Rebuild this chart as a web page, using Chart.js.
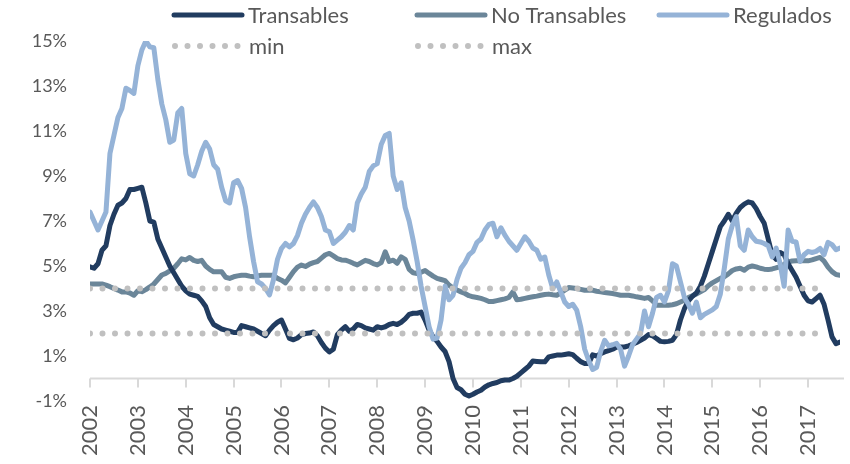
<!DOCTYPE html>
<html>
<head>
<meta charset="utf-8">
<script src="https://cdn.jsdelivr.net/npm/chart.js@4/dist/chart.umd.min.js"></script>
<style>
  html, body { margin: 0; padding: 0; background: #fff; }
  #wrap { width: 850px; height: 464px; }
</style>
</head>
<body>
<div id="wrap"><canvas id="myChart" width="850" height="464"></canvas></div>
<script>
// monthly series, 2002-01 .. 2017-09 (% a/a)
const years = ['2002', '2003', '2004', '2005', '2006', '2007', '2008', '2009',
  '2010', '2011', '2012', '2013', '2014', '2015', '2016', '2017'];

const transables = [
  4.96, 4.9, 5.1, 5.7, 5.9, 6.8, 7.3, 7.7, 7.8, 8.0, 8.4, 8.4,
  8.45, 8.5, 7.8, 7.0, 6.95, 6.2, 5.8, 5.4, 5.0, 4.7, 4.4, 4.1,
  3.9, 3.75, 3.7, 3.65, 3.45, 3.2, 2.7, 2.4, 2.3, 2.2, 2.15, 2.1,
  2.05, 2.05, 2.35, 2.3, 2.25, 2.2, 2.1, 2.0, 1.9, 2.15, 2.35, 2.5,
  2.6, 2.2, 1.78, 1.72, 1.8, 1.95, 2.0, 2.02, 2.07, 1.9, 1.6, 1.35,
  1.18, 1.3, 1.95, 2.15, 2.3, 2.1, 2.2, 2.4, 2.35, 2.25, 2.2, 2.15,
  2.3, 2.25, 2.3, 2.4, 2.45, 2.4, 2.5, 2.65, 2.85, 2.9, 2.9, 2.95,
  2.6, 2.15, 1.85, 1.65, 1.4, 1.2, 0.75, 0.0, -0.4, -0.5, -0.7, -0.78,
  -0.7, -0.6, -0.52, -0.38, -0.28, -0.22, -0.18, -0.1, -0.07, -0.07, 0.0, 0.1,
  0.25, 0.4, 0.55, 0.78, 0.76, 0.74, 0.74, 0.96, 1.0, 1.04, 1.04, 1.07,
  1.1, 1.06, 0.9, 0.75, 0.67, 0.67, 1.05, 1.0, 1.1, 1.18, 1.24, 1.3,
  1.4, 1.4, 1.4, 1.45, 1.52, 1.6, 1.7, 1.8, 1.95, 1.9, 1.78, 1.65,
  1.63, 1.65, 1.7, 1.95, 2.6, 3.1, 3.45, 3.65, 3.8, 4.1, 4.55, 5.1,
  5.65, 6.2, 6.75, 7.0, 7.3, 7.0, 7.35, 7.6, 7.75, 7.85, 7.8, 7.55,
  7.2, 6.9, 6.2, 5.5, 5.3, 5.6, 5.5, 5.1, 4.8, 4.5, 4.1, 3.7,
  3.45, 3.4, 3.55, 3.7, 3.3, 2.6, 1.85, 1.55, 1.62
];

const noTransables = [
  4.2, 4.2, 4.2, 4.2, 4.15, 4.08, 4.0, 3.93, 3.85, 3.85, 3.8, 3.7,
  3.9, 3.86, 3.95, 4.07, 4.2, 4.4, 4.6, 4.67, 4.78, 4.9, 5.1, 5.32,
  5.27, 5.38, 5.25, 5.2, 5.25, 5.0, 4.85, 4.74, 4.74, 4.74, 4.5, 4.45,
  4.52, 4.56, 4.59, 4.59, 4.55, 4.52, 4.56, 4.59, 4.59, 4.59, 4.59, 4.45,
  4.37, 4.25, 4.5, 4.75, 4.95, 5.04, 4.98, 5.08, 5.15, 5.2, 5.35, 5.5,
  5.56, 5.45, 5.33, 5.27, 5.26, 5.2, 5.12, 5.05, 5.15, 5.25, 5.2, 5.11,
  5.05, 5.15, 5.63, 5.2, 5.26, 5.12, 5.41, 5.3, 4.85, 4.7, 4.67, 4.72,
  4.8, 4.67, 4.55, 4.45, 4.4, 4.35, 4.15, 4.02, 3.93, 3.85, 3.78, 3.68,
  3.63, 3.6, 3.56, 3.5, 3.42, 3.42, 3.46, 3.5, 3.54, 3.6, 3.85, 3.5,
  3.52, 3.56, 3.6, 3.63, 3.66, 3.7, 3.73, 3.75, 3.72, 3.7, 3.8, 3.92,
  4.04, 4.02, 4.0, 3.96, 3.92, 3.92, 3.92, 3.88, 3.85, 3.82, 3.8, 3.78,
  3.74, 3.7, 3.7, 3.7, 3.67, 3.63, 3.6, 3.56, 3.6, 3.45, 3.26, 3.26,
  3.26, 3.26, 3.28, 3.32, 3.4, 3.48, 3.6, 3.68, 3.76, 3.85, 3.95, 4.12,
  4.25, 4.35, 4.45, 4.52, 4.65, 4.8, 4.87, 4.9, 4.81, 4.95, 5.0, 4.96,
  4.9, 4.86, 4.84, 4.87, 4.92, 4.96, 5.08, 5.18, 5.22, 5.23, 5.23, 5.23,
  5.23, 5.27, 5.33, 5.38, 5.22, 4.95, 4.75, 4.62, 4.59
];

const regulados = [
  7.4, 7.0, 6.6, 7.0, 7.4, 10.0, 10.8, 11.6, 12.0, 12.9, 12.8, 12.67,
  13.9, 14.6, 15.0, 14.74, 14.7, 13.3, 12.2, 11.5, 10.5, 10.6, 11.8, 12.0,
  10.0, 9.1, 9.0, 9.5, 10.1, 10.5, 10.2, 9.5, 9.3, 8.5, 7.9, 7.8,
  8.7, 8.8, 8.45, 7.6, 6.3, 5.2, 4.3, 4.2, 4.0, 3.72, 4.4, 5.3,
  5.78, 6.0, 5.85, 6.0, 6.35, 6.9, 7.3, 7.6, 7.85, 7.6, 7.2, 6.6,
  6.52, 6.0, 6.15, 6.3, 6.5, 6.8, 6.6, 7.8, 8.2, 8.5, 9.2, 9.45,
  9.55, 10.4, 10.8, 10.89, 9.0, 8.4, 8.7, 7.6, 7.0, 6.15, 5.2, 4.1,
  3.2, 2.3, 1.75, 1.8, 2.6, 4.1, 3.5, 3.7, 4.4, 4.9, 5.15, 5.5,
  5.65, 6.05, 6.2, 6.6, 6.85, 6.9, 6.3, 6.7, 6.37, 6.1, 5.9, 5.7,
  6.0, 6.3, 6.1, 5.8, 5.7, 5.3, 5.4, 4.6, 4.0, 4.29, 3.85, 3.4,
  3.2, 3.3, 3.04, 2.3, 1.3, 0.8, 0.4, 0.5, 1.2, 1.7, 1.45, 1.5,
  1.56, 1.3, 0.55, 1.0, 1.5, 1.75, 2.0, 3.0, 2.3, 2.9, 3.6, 3.7,
  3.4, 3.9, 5.1, 5.0, 4.3, 3.6, 3.3, 2.9, 3.4, 2.7, 2.85, 2.95,
  3.05, 3.2, 3.75, 4.9, 6.2, 6.8, 7.2, 5.9, 5.7, 6.6, 6.3, 6.1,
  6.07, 6.0, 5.9, 5.4, 5.8, 5.1, 4.1, 6.6, 6.1, 6.07, 5.2, 5.5,
  5.65, 5.6, 5.65, 5.78, 5.5, 6.05, 5.95, 5.72, 5.8
];

// target range: 2% .. 4%, shown from 2002-01 to 2017-03 (month index)
const minLine = [{ x: 0, y: 2 }, { x: 182, y: 2 }];
const maxLine = [{ x: 0, y: 4 }, { x: 182, y: 4 }];

const FONT = "Lato, 'Liberation Sans', sans-serif";
const NAVY = '#213c60';
const SLATE = '#6b8699';
const LIGHT = '#95b3d7';
const DOTS = '#c0c0c0';
const TEXT = '#595959';

const toPoints = (arr) => arr.map((v, i) => ({ x: i, y: v }));

// x axis drawn at 0% with tick marks, labels stay at the bottom
const zeroAxis = {
  id: 'zeroAxis',
  beforeDatasetsDraw(chart) {
    const { ctx, chartArea, scales: { x, y } } = chart;
    const y0 = y.getPixelForValue(0);
    ctx.save();
    ctx.strokeStyle = '#d9d9d9';
    ctx.lineWidth = 2;
    ctx.beginPath();
    ctx.moveTo(chartArea.left, y0);
    ctx.lineTo(chartArea.right + 4, y0);
    x.ticks.forEach((t) => {
      const px = Math.round(x.getPixelForValue(t.value));
      ctx.moveTo(px, y0);
      ctx.lineTo(px, y0 + 9);
    });
    ctx.stroke();
    ctx.restore();
  }
};

// legend in two rows, over the top of the plot
const legendRows = {
  id: 'legendRows',
  afterDraw(chart) {
    const { ctx } = chart;
    const items = [
      { ds: 1, x: 174, y: 15 },
      { ds: 0, x: 417, y: 15 },
      { ds: 2, x: 659, y: 15 },
      { ds: 3, x: 175, y: 46 },
      { ds: 4, x: 418, y: 46 }
    ];
    ctx.save();
    ctx.font = '22px ' + FONT;
    ctx.fillStyle = TEXT;
    ctx.textBaseline = 'middle';
    items.forEach((it) => {
      const ds = chart.data.datasets[it.ds];
      ctx.beginPath();
      ctx.strokeStyle = ds.borderColor;
      ctx.lineWidth = ds.borderWidth;
      ctx.lineCap = 'round';
      ctx.setLineDash(ds.borderDash || []);
      ctx.moveTo(it.x, it.y);
      ctx.lineTo(it.x + (ds.borderDash ? 63 : 68), it.y);
      ctx.stroke();
      ctx.setLineDash([]);
      ctx.fillText(ds.label, it.x + 74, it.y + 1);
    });
    ctx.restore();
  }
};

const lineDs = (label, data, color, order) => ({
  label,
  data: toPoints(data),
  borderColor: color,
  borderWidth: 5,
  pointRadius: 0,
  tension: 0,
  borderJoinStyle: 'round',
  borderCapStyle: 'round',
  order
});

const dotDs = (label, data, order) => ({
  label,
  data,
  borderColor: DOTS,
  borderWidth: 6,
  borderDash: [0, 12.5],
  borderCapStyle: 'round',
  pointRadius: 0,
  order
});

const ctx = document.getElementById('myChart').getContext('2d');
const myChart = new Chart(ctx, {
  type: 'line',
  data: {
    datasets: [
      lineDs('No Transables', noTransables, SLATE, 5),
      lineDs('Transables', transables, NAVY, 4),
      lineDs('Regulados', regulados, LIGHT, 3),
      dotDs('min', minLine, 2),
      dotDs('max', maxLine, 1)
    ]
  },
  options: {
    responsive: false,
    animation: false,
    devicePixelRatio: 1,
    layout: { padding: { top: 41, right: 10, left: 0, bottom: 0 } },
    plugins: { legend: { display: false }, tooltip: { enabled: false } },
    scales: {
      x: {
        type: 'linear',
        min: 0,
        max: 188,
        afterBuildTicks: (s) => { s.ticks = years.map((_, k) => ({ value: k * 12 })); },
        afterFit: (s) => { s.height = 63; },
        grid: { display: false, drawTicks: false },
        border: { display: false },
        ticks: {
          autoSkip: false,
          minRotation: 90,
          maxRotation: 90,
          padding: 4,
          color: TEXT,
          font: { family: FONT, size: 22 },
          callback: (v) => years[v / 12]
        }
      },
      y: {
        min: -1,
        max: 15,
        afterFit: (s) => { s.width = 90; },
        grid: { display: false, drawTicks: false },
        border: { display: false },
        ticks: {
          stepSize: 2,
          padding: 23,
          color: TEXT,
          font: { family: FONT, size: 18 },
          callback: (v) => v + '%'
        }
      }
    }
  },
  plugins: [zeroAxis, legendRows]
});
</script>
</body>
</html>
